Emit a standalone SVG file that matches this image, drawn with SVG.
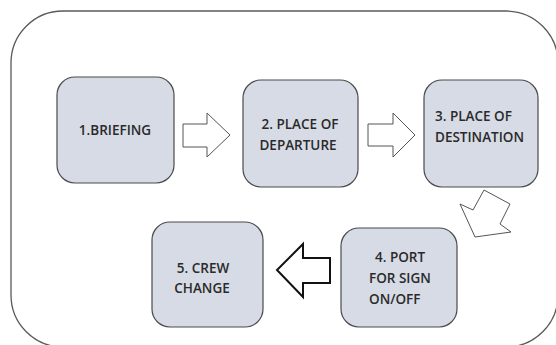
<svg xmlns="http://www.w3.org/2000/svg" width="556" height="345" viewBox="0 0 556 345">
<style>
.box{fill:#d6dbe5;stroke:#4a4a4a;stroke-width:1.2}
.t{font-family:"Open Sans","Liberation Sans",sans-serif;font-size:13.5px;font-weight:600;fill:#2a2a2a}
.arr{fill:#fff;stroke:#555;stroke-width:1}
.arrb{fill:#fff;stroke:#111;stroke-width:2;stroke-linejoin:miter}
</style>
<rect x="11" y="11" width="547" height="336" rx="52" ry="52" fill="#fff" stroke="#5a5a5a" stroke-width="1.3"/>
<g id="n1"><rect class="box" x="57" y="77" width="117" height="106" rx="18"/>
<text class="t" x="115" y="135" text-anchor="middle">1.BRIEFING</text></g>
<g id="n2"><rect class="box" x="243" y="80" width="115" height="107" rx="18"/>
<text class="t" x="300" y="129" text-anchor="middle">2. PLACE OF</text>
<text class="t" x="298" y="150" text-anchor="middle">DEPARTURE</text></g>
<g id="n3"><rect class="box" x="424" y="80" width="114" height="107" rx="18"/>
<text class="t" x="435" y="121">3. PLACE OF</text>
<text class="t" x="435" y="142">DESTINATION</text></g>
<g id="n4"><rect class="box" x="341" y="228" width="116" height="99" rx="18"/>
<text class="t" x="375" y="262">4. PORT</text>
<text class="t" x="369" y="283">FOR SIGN</text>
<text class="t" x="369" y="304">ON/OFF</text></g>
<g id="n5"><rect class="box" x="152" y="222" width="111" height="105" rx="18"/>
<text class="t" x="203" y="273" text-anchor="middle">5. CREW</text>
<text class="t" x="202" y="293" text-anchor="middle">CHANGE</text></g>
<g id="connectors">
<polygon class="arr" points="183,124 207,124 207,113 230,135 207,157 207,147 183,147"/>
<polygon class="arr" points="368,124 393,124 393,113 415,135 393,157 393,146 368,146"/>
<polygon class="arr" points="484,190 510,204 500,224 511,232 475,237 460,204 473,210"/>
<polygon class="arrb" points="330,258 303,258 303,244 277,270 303,297 303,283 330,283"/>
</g>
</svg>
